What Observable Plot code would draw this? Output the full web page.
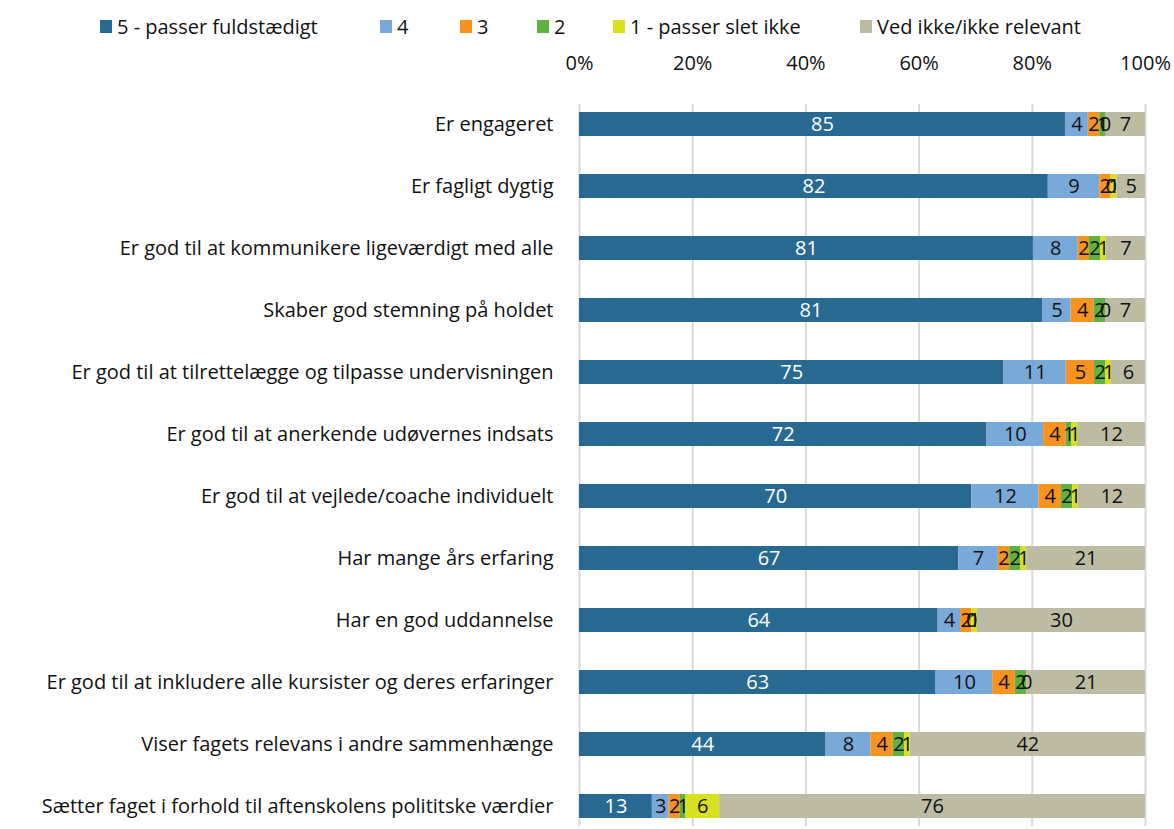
<!DOCTYPE html>
<html><head><meta charset="utf-8">
<script src="https://cdn.jsdelivr.net/npm/d3@7"></script>
<script src="https://cdn.jsdelivr.net/npm/@observablehq/plot@0.6"></script>
<style>
body{margin:0;background:#fff;font-family:"Open Sans","Liberation Sans",sans-serif;}
#legend{position:relative;height:45px;width:1174px;font-size:20px;color:#111;}
.item{position:absolute;top:13px;display:flex;align-items:center;white-space:nowrap;}
.sw{width:12px;height:13px;margin-right:5px;display:inline-block;}
</style></head><body>
<div id="legend"></div>
<div id="chart"></div>
<script>
const categories = [
  "Er engageret",
  "Er fagligt dygtig",
  "Er god til at kommunikere ligeværdigt med alle",
  "Skaber god stemning på holdet",
  "Er god til at tilrettelægge og tilpasse undervisningen",
  "Er god til at anerkende udøvernes indsats",
  "Er god til at vejlede/coache individuelt",
  "Har mange års erfaring",
  "Har en god uddannelse",
  "Er god til at inkludere alle kursister og deres erfaringer",
  "Viser fagets relevans i andre sammenhænge",
  "Sætter faget i forhold til aftenskolens polititske værdier"
];
const seriesNames = ["5 - passer fuldstædigt","4","3","2","1 - passer slet ikke","Ved ikke/ikke relevant"];
const seriesColors = ["#286991","#79a9d8","#f7931e","#5fb142","#d8e020","#bdbca3"];
const s5 = [85,82,81,81,75,72,70,67,64,63,44,13];
const s4 = [4,9,8,5,11,10,12,7,4,10,8,3];
const s3 = [2,2,2,4,5,4,4,2,2,4,4,2];
const s2 = [1,0,2,2,2,1,2,2,0,2,2,1];
const s1 = [0,1,1,0,1,1,1,1,1,0,1,6];
const sVed = [7,5,7,7,6,12,12,21,30,21,42,76];
const xTicks = [0,0.2,0.4,0.6,0.8,1];

const seriesValues = [s5,s4,s3,s2,s1,sVed];
const data = [];
categories.forEach((c,i)=>{
  seriesNames.forEach((s,j)=>{ data.push({cat:c, s, v:seriesValues[j][i]}); });
});

// legend
const legendX = [100,380,460,537,613,860];
const leg = document.getElementById("legend");
seriesNames.forEach((s,j)=>{
  const d = document.createElement("div");
  d.className="item"; d.style.left=legendX[j]+"px";
  d.innerHTML = `<span class="sw" style="background:${seriesColors[j]}"></span>${s}`;
  leg.appendChild(d);
});

const stackOpts = {x:"v", y:"cat", z:"s", order: seriesNames, offset:"normalize"};
const chart = Plot.plot({
  width:1174, height:781,
  marginTop:59, marginBottom:0, marginLeft:579, marginRight:29,
  style:{fontFamily:"'Open Sans', 'Liberation Sans', sans-serif", fontSize:"20px", color:"#111"},
  x:{domain:[0,1], axis:"top", ticks:xTicks, tickFormat:d=>Math.round(d*100)+"%", tickSize:0, tickPadding:35, label:null},
  y:{domain:categories, padding:0.615, paddingOuter:0.1, label:null, tickSize:0, tickPadding:26},
  color:{domain:seriesNames, range:seriesColors},
  marks:[
    Plot.gridX(xTicks,{stroke:"#d9d9d9", strokeOpacity:1, strokeWidth:2}),
    Plot.barX(data, Plot.stackX({...stackOpts, fill:"s"})),
    Plot.text(data, Plot.stackX({...stackOpts, text:d=>d.s===seriesNames[0]?String(d.v):"", fill:"white", fontSize:20})),
    Plot.text(data, Plot.stackX({...stackOpts, text:d=>d.s===seriesNames[0]?"":String(d.v), fill:"#111", fontSize:20}))
  ]
});
document.getElementById("chart").appendChild(chart);
</script>
</body></html>
